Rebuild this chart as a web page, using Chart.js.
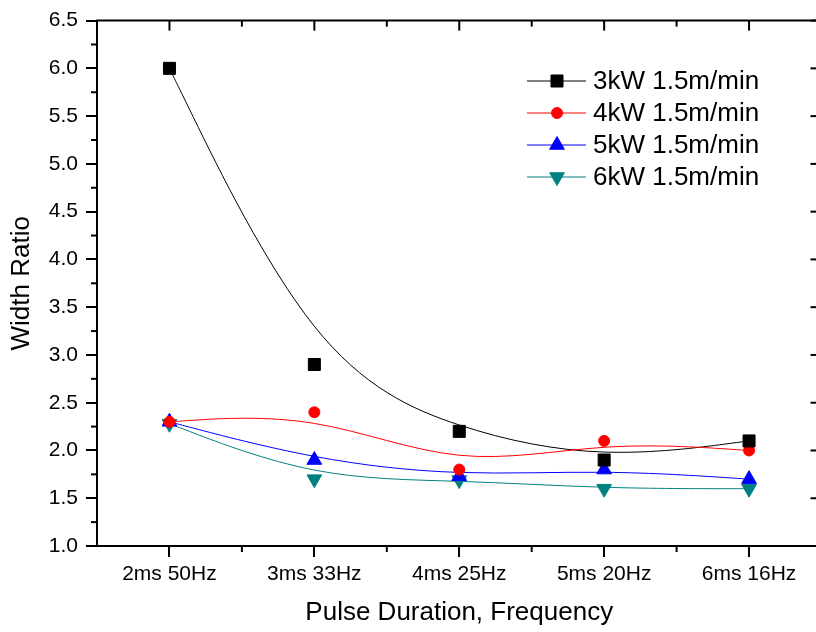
<!DOCTYPE html>
<html>
<head>
<meta charset="utf-8">
<script src="https://cdn.jsdelivr.net/npm/chart.js@4.4.0/dist/chart.umd.min.js"></script>
<style>
  html, body { margin: 0; padding: 0; background: #fff; overflow: hidden; }
  canvas { display: block; }
</style>
</head>
<body>
<canvas id="myChart" width="831" height="632"></canvas>
<script>
  // pulse settings along the x axis
  const categories = ['2ms 50Hz', '3ms 33Hz', '4ms 25Hz', '5ms 20Hz', '6ms 16Hz'];

  // measured width ratio per laser power
  const ratio3kW = [6.0, 2.9, 2.2, 1.9, 2.1];
  const ratio4kW = [2.3, 2.4, 1.8, 2.1, 2.0];
  const ratio5kW = [2.3, 1.9, 1.73, 1.8, 1.7];
  const ratio6kW = [2.28, 1.7, 1.69, 1.6, 1.6];

  const seriesNames = ['3kW 1.5m/min', '4kW 1.5m/min', '5kW 1.5m/min', '6kW 1.5m/min'];
  const seriesColors = ['#000000', '#ff0000', '#0000ff', '#008080'];

  const yMin = 1.0, yMax = 6.5, yStep = 0.5;

  const FONT = '"Liberation Sans", Arial, sans-serif';

  // smooth B-spline through the markers' control polygon (ends clamped)
  const splinePlugin = {
    id: 'spline',
    beforeDatasetsDraw(chart) {
      const ctx = chart.ctx;
      ctx.save();
      ctx.beginPath();
      ctx.rect(chart.chartArea.left, chart.chartArea.top,
               chart.chartArea.right - chart.chartArea.left,
               chart.chartArea.bottom - chart.chartArea.top);
      ctx.clip();
      chart.data.datasets.forEach((ds, i) => {
        const pts = chart.getDatasetMeta(i).data.map(p => ({x: p.x, y: p.y}));
        const n = pts.length;
        const q = [pts[0], pts[0]].concat(pts, [pts[n - 1], pts[n - 1]]);
        ctx.beginPath();
        ctx.strokeStyle = ds.borderColor;
        ctx.lineWidth = 1;
        for (let k = 0; k + 3 < q.length; k++) {
          const [A, B, C, D] = [q[k], q[k + 1], q[k + 2], q[k + 3]];
          const s = {x: (A.x + 4 * B.x + C.x) / 6, y: (A.y + 4 * B.y + C.y) / 6};
          const c1 = {x: (2 * B.x + C.x) / 3, y: (2 * B.y + C.y) / 3};
          const c2 = {x: (B.x + 2 * C.x) / 3, y: (B.y + 2 * C.y) / 3};
          const e = {x: (B.x + 4 * C.x + D.x) / 6, y: (B.y + 4 * C.y + D.y) / 6};
          if (k === 0) ctx.moveTo(s.x, s.y);
          ctx.bezierCurveTo(c1.x, c1.y, c2.x, c2.y, e.x, e.y);
        }
        ctx.stroke();
      });
      ctx.restore();
    }
  };

  // top/right frame, mirrored ticks and minor ticks
  const framePlugin = {
    id: 'frame',
    afterDraw(chart) {
      const {ctx, chartArea: a, scales: {x, y}} = chart;
      const tick = (x1, y1, x2, y2) => {
        ctx.beginPath(); ctx.moveTo(x1, y1); ctx.lineTo(x2, y2); ctx.stroke();
      };
      ctx.save();
      ctx.strokeStyle = '#000';
      ctx.lineWidth = 2;
      ctx.beginPath();
      ctx.moveTo(a.left - 1, a.top);
      ctx.lineTo(a.right, a.top);
      ctx.lineTo(a.right, a.bottom);
      ctx.stroke();

      const half = (x.getPixelForValue(1) - x.getPixelForValue(0)) / 2;
      categories.forEach((c, i) => {
        const px = x.getPixelForValue(i);
        tick(px, a.top, px, a.top + 10);
        if (i < categories.length - 1) {
          tick(px + half, a.bottom, px + half, a.bottom + 6);
          tick(px + half, a.top, px + half, a.top + 6);
        }
      });
      for (let v = yMin; v <= yMax + 1e-9; v += yStep / 2) {
        const py = y.getPixelForValue(v);
        const major = Math.abs(v / yStep - Math.round(v / yStep)) < 1e-6;
        if (major) {
          tick(a.right - 11, py, a.right, py);
        } else {
          tick(a.left - 6, py, a.left, py);
          tick(a.right - 5, py, a.right, py);
        }
      }
      ctx.restore();
    }
  };

  // legend: short line with the marker in its middle
  const legendPlugin = {
    id: 'lineLegend',
    afterDraw(chart) {
      const ctx = chart.ctx;
      const rowY = [81, 113, 145, 177];
      ctx.save();
      chart.data.datasets.forEach((ds, i) => {
        const yy = rowY[i];
        ctx.strokeStyle = ds.borderColor;
        ctx.lineWidth = 1;
        ctx.beginPath(); ctx.moveTo(527, yy); ctx.lineTo(586, yy); ctx.stroke();
        ctx.fillStyle = ds.backgroundColor;
        Chart.helpers.drawPoint(ctx, {
          pointStyle: ds.pointStyle, radius: ds.pointRadius,
          rotation: ds.pointRotation || 0, borderWidth: 1
        }, 557, yy);
        ctx.fillStyle = '#000';
        ctx.font = '26px ' + FONT;
        ctx.textBaseline = 'middle';
        ctx.textAlign = 'left';
        ctx.fillText(ds.label, 593, yy + 1);
      });
      ctx.restore();
    }
  };

  const markerSet = (label, data, color, style, radius, rotation) => ({
    label: label,
    data: data,
    showLine: false,
    borderColor: color,
    backgroundColor: color,
    pointBackgroundColor: color,
    pointBorderColor: color,
    pointBorderWidth: 1,
    pointStyle: style,
    pointRadius: radius,
    pointHoverRadius: radius,
    pointRotation: rotation
  });

  const ctx = document.getElementById('myChart');

  new Chart(ctx, {
    type: 'line',
    data: {
      labels: categories,
      datasets: [
        markerSet(seriesNames[0], ratio3kW, seriesColors[0], 'rect', 8.5, 0),
        markerSet(seriesNames[1], ratio4kW, seriesColors[1], 'circle', 5.5, 0),
        markerSet(seriesNames[2], ratio5kW, seriesColors[2], 'triangle', 8.5, 0),
        markerSet(seriesNames[3], ratio6kW, seriesColors[3], 'triangle', 8.5, 180)
      ]
    },
    plugins: [splinePlugin, framePlugin, legendPlugin],
    options: {
      responsive: false,
      animation: false,
      layout: { padding: { top: 18, right: 5, left: 0, bottom: 0 } },
      plugins: {
        legend: { display: false },
        tooltip: { enabled: false }
      },
      scales: {
        x: {
          type: 'category',
          offset: true,
          afterFit: s => { s.height = 86; },
          grid: {
            drawOnChartArea: false, drawTicks: true, tickLength: 11,
            color: '#000', lineWidth: 2, offset: false
          },
          border: { display: true, color: '#000', width: 2 },
          ticks: { color: '#000', padding: 5, font: { family: FONT, size: 21 } },
          title: {
            display: true, text: 'Pulse Duration, Frequency', color: '#000',
            font: { family: FONT, size: 26 }, padding: { top: 0, bottom: 4 }
          }
        },
        y: {
          min: yMin,
          max: yMax,
          afterFit: s => { s.width = 97; },
          grid: {
            drawOnChartArea: false, drawTicks: true, tickLength: 11,
            color: '#000', lineWidth: 2
          },
          border: { display: true, color: '#000', width: 2 },
          ticks: {
            stepSize: yStep, color: '#000', padding: 8,
            font: { family: FONT, size: 21 },
            callback: v => Number(v).toFixed(1)
          },
          title: {
            display: true, text: 'Width Ratio', color: '#000',
            font: { family: FONT, size: 26 }, padding: { top: 6, bottom: 0 }
          }
        }
      }
    }
  });
</script>
</body>
</html>
